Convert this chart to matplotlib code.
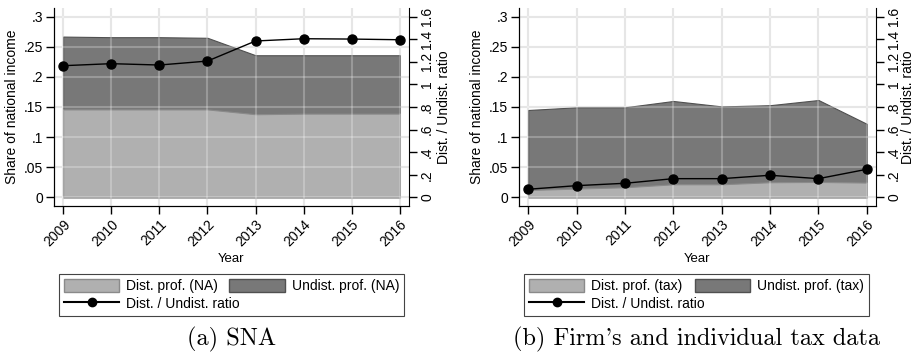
import matplotlib
matplotlib.use("Agg")
import matplotlib.pyplot as plt
from matplotlib.patches import Patch
from matplotlib.lines import Line2D

plt.rcParams['font.family'] = ['Liberation Sans', 'DejaVu Sans']

years = [2009, 2010, 2011, 2012, 2013, 2014, 2015, 2016]

# (a) SNA
sna_dist = [0.146, 0.146, 0.146, 0.146, 0.138, 0.139, 0.139, 0.139]
sna_total = [0.267, 0.266, 0.266, 0.265, 0.236, 0.236, 0.236, 0.236]
sna_ratio = [1.166, 1.184, 1.172, 1.207, 1.385, 1.405, 1.402, 1.396]

# (b) Tax data
tax_dist = [0.012, 0.0145, 0.0166, 0.0216, 0.0216, 0.025, 0.0255, 0.0244]
tax_total = [0.145, 0.1495, 0.1495, 0.160, 0.151, 0.153, 0.1616, 0.122]
tax_ratio = [0.071, 0.103, 0.124, 0.165, 0.165, 0.195, 0.165, 0.248]

left_ticks = [0, 0.05, 0.1, 0.15, 0.2, 0.25, 0.3]
left_labels = ['0', '.05', '.1', '.15', '.2', '.25', '.3']
right_ticks = [0, 0.2, 0.4, 0.6, 0.8, 1.0, 1.2, 1.4, 1.6]
right_labels = ['0', '.2', '.4', '.6', '.8', '1', '1.2', '1.4', '1.6']

LIGHT = '#b0b0b0'
DARK = '#787878'
GRID = '#dedede'

W, H = 916, 355
fig = plt.figure(figsize=(W / 100, H / 100), dpi=100)


def panel(x0, x1, dist, total, ratio, lab_dist, lab_undist, caption, legbox, rpad):
    ax = fig.add_axes([x0 / W, 1 - 206 / H, (x1 - x0) / W, (206 - 8) / H])
    ax.set_xlim(2008.81, 2016.19)
    ax.set_ylim(-0.0145, 0.3145)
    ax.fill_between(years, 0, total, color=DARK, edgecolor='#505050', lw=0.8, zorder=2)
    ax.fill_between(years, 0, dist, color=LIGHT, edgecolor='#8a8a8a', lw=0.8, zorder=3)
    for y in left_ticks:
        ax.axhline(y, color='white', alpha=0.25, lw=1.5, zorder=4)
        ax.axhline(y, color=GRID, lw=1.5, zorder=1)
    for x in years:
        ax.axvline(x, color='white', alpha=0.25, lw=1.5, zorder=4)
        ax.axvline(x, color=GRID, lw=1.5, zorder=1)
    ax.set_yticks(left_ticks)
    ax.set_yticklabels(left_labels, fontsize=10)
    ax.set_xticks(years)
    ax.set_xticklabels([str(y) for y in years], rotation=45, ha='right',
                       rotation_mode='anchor', fontsize=10)
    ax.tick_params(axis='both', direction='out', length=6, width=1, pad=2)
    ax.spines['top'].set_visible(False)
    ax.spines['right'].set_visible(False)
    ax.set_ylabel('Share of national income', fontsize=10, labelpad=3)
    ax.set_xlabel('Year', fontsize=9.5, labelpad=3)

    ax2 = ax.twinx()
    ax2.set_ylim(-0.0145 * 1.6 / 0.3, 0.3145 * 1.6 / 0.3)
    ax2.plot(years, ratio, color='black', lw=1.0, marker='o', ms=6.5, zorder=5)
    ax2.set_yticks(right_ticks)
    ax2.set_yticklabels(right_labels, fontsize=10, rotation=90, va='center')
    ax2.tick_params(axis='y', direction='out', length=6, width=1, pad=2)
    ax2.spines['top'].set_visible(False)
    ax2.set_ylabel('Dist. / Undist. ratio', fontsize=10, labelpad=rpad)

    handles = [Patch(facecolor=LIGHT, edgecolor='#8a8a8a'),
               Line2D([], [], color='black', lw=1.5, marker='o', ms=6),
               Patch(facecolor=DARK, edgecolor='#505050')]
    labels = [lab_dist, 'Dist. / Undist. ratio', lab_undist]
    bx0, bx1, by0, by1 = legbox
    leg = fig.legend(handles, labels, ncol=2, loc='center',
                     bbox_to_anchor=(bx0 / W, 1 - by1 / H, (bx1 - bx0) / W, (by1 - by0) / H),
                     mode='expand', fontsize=10, frameon=True, fancybox=False,
                     edgecolor='#444444', framealpha=1, handlelength=4.0,
                     handleheight=1.0, labelspacing=0.25, columnspacing=1.0,
                     handletextpad=0.5, borderpad=0.35, borderaxespad=0)
    leg.get_frame().set_linewidth(0.8)
    cx = (bx0 + bx1) / 2
    fig.text(cx / W, 1 - 339 / H, caption, family='cmr10', fontsize=17.5,
             ha='center', va='center')


panel(54, 409, sna_dist, sna_total, sna_ratio, 'Dist. prof. (NA)',
      'Undist. prof. (NA)', '(a) SNA', (59, 404, 273, 317), 2)
panel(519, 876, tax_dist, tax_total, tax_ratio, 'Dist. prof. (tax)',
      'Undist. prof. (tax)', "(b) Firm's and individual tax data", (524, 869, 273, 317), 0)

fig.savefig('out.png', dpi=100)
